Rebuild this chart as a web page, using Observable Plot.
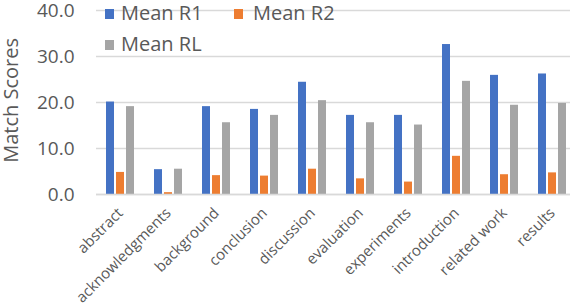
<!DOCTYPE html>
<html>
<head>
<meta charset="utf-8">
<script src="https://cdn.jsdelivr.net/npm/d3@7"></script>
<script src="https://cdn.jsdelivr.net/npm/@observablehq/plot@0.6"></script>
<style>
  html, body { margin: 0; padding: 0; background: #fff; }
  #wrap { position: relative; width: 570px; height: 304px; overflow: hidden; font-family: "Open Sans", sans-serif; }
  .legend { position: absolute; font-size: 20px; color: #595959; line-height: 20px; white-space: nowrap; }
  .ytitle { position: absolute; font-size: 20px; color: #595959; line-height: 20px; white-space: nowrap; writing-mode: vertical-rl; transform: rotate(180deg); }
</style>
</head>
<body>
<div id="wrap"></div>
<script>
const categories = ["abstract", "acknowledgments", "background", "conclusion", "discussion", "evaluation", "experiments", "introduction", "related work", "results"];
const seriesNames = ["Mean R1", "Mean R2", "Mean RL"];
const meanR1 = [20.1, 5.4, 19.1, 18.5, 24.4, 17.2, 17.2, 32.6, 25.9, 26.2];
const meanR2 = [4.8, 0.4, 4.1, 4.0, 5.5, 3.4, 2.7, 8.3, 4.3, 4.7];
const meanRL = [19.1, 5.5, 15.6, 17.2, 20.4, 15.6, 15.1, 24.6, 19.4, 19.8];
const colors = ["#4472C4", "#ED7D31", "#A5A5A5"];
const yTicks = [0, 10, 20, 30, 40];
const yTitle = "Match Scores";

const seriesValues = [meanR1, meanR2, meanRL];
const data = [];
categories.forEach((c, i) => {
  seriesNames.forEach((s, j) => data.push({category: c, series: s, value: seriesValues[j][i]}));
});

const chart = Plot.plot({
  width: 570,
  height: 304,
  marginLeft: 93,
  marginRight: 0,
  marginTop: 10,
  marginBottom: 110,
  style: {fontFamily: "Open Sans, sans-serif", color: "#595959", background: "transparent", overflow: "visible"},
  fx: {domain: categories, range: [93.8, 578], paddingInner: 0, paddingOuter: 0},
  x: {domain: seriesNames, paddingInner: 0.18, paddingOuter: 0.79, axis: null},
  y: {domain: [0, 40], ticks: yTicks},
  color: {domain: seriesNames, range: colors},
  marks: [
    Plot.gridY(yTicks, {stroke: "#D9D9D9", strokeOpacity: 1, strokeWidth: 1.5}),
    Plot.barY(data, {fx: "category", x: "series", y: "value", fill: "series"}),
    Plot.ruleY([0], {stroke: "#D9D9D9", strokeWidth: 1.5}),
    Plot.axisY(yTicks, {tickSize: 0, tickPadding: 22, tickFormat: d3.format(".1f"), fontSize: 19, label: null, fill: "#595959"}),
    Plot.axisFx({anchor: "bottom", tickSize: 0, tickRotate: -45, tickPadding: 16, fontSize: 15, label: null, fill: "#595959"})
  ]
});

const wrap = document.getElementById("wrap");
wrap.appendChild(chart);

const title = document.createElement("div");
title.className = "ytitle";
title.textContent = yTitle;
title.style.left = "1px";
title.style.top = "38px";
wrap.appendChild(title);

const legendPos = [[105, 121, 4], [234, 253, 4], [105, 121, 35]];
seriesNames.forEach((s, j) => {
  const [sx, tx, ty] = legendPos[j];
  const sw = document.createElement("div");
  sw.className = "legend";
  sw.style.left = sx + "px"; sw.style.top = (ty + 5) + "px";
  sw.style.width = "9px"; sw.style.height = "10px"; sw.style.background = colors[j];
  wrap.appendChild(sw);
  const t = document.createElement("div");
  t.className = "legend";
  t.style.left = tx + "px"; t.style.top = (ty - 1) + "px";
  t.textContent = s;
  wrap.appendChild(t);
});
</script>
</body>
</html>
